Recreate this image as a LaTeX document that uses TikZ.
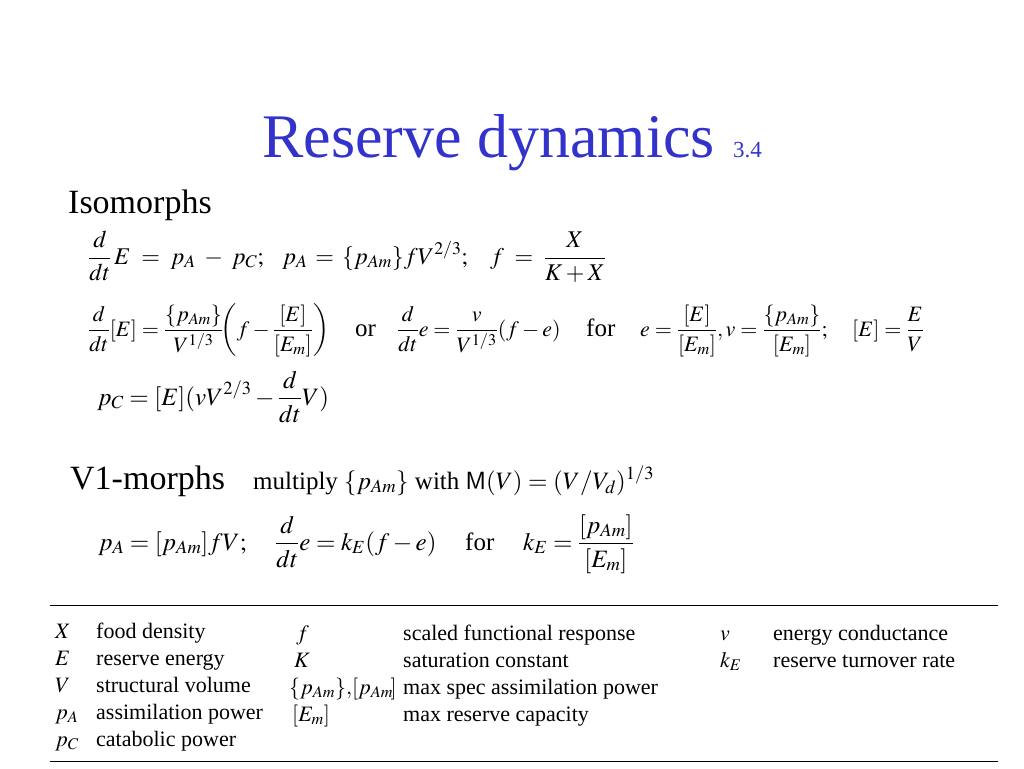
\documentclass[tikz,border=0pt]{standalone}
\usepackage{mathptmx}
\usepackage[no-math]{fontspec}
\setmainfont{Liberation Serif}
\usetikzlibrary{positioning}
\definecolor{slideblue}{RGB}{51,51,204}
\tikzset{
    slidetitle/.style={anchor=base west, inner sep=0pt, text=slideblue, font=\fontsize{62}{70}\selectfont},
    heading/.style={anchor=base west, inner sep=0pt, font=\fontsize{34}{40}\selectfont},
    eqn/.style={anchor=base west, inner sep=0pt, font=\fontsize{25}{29}\selectfont},
    eqnsmall/.style={eqn, font=\fontsize{22}{26}\selectfont},
    legend/.style={anchor=base west, inner sep=0pt, font=\fontsize{22}{26}\selectfont},
}

\begin{document}
\begin{tikzpicture}[x=1pt, y=-1pt]
    \useasboundingbox (0, 0) rectangle (1024, 768);
    % title
    \node [slidetitle] (title) at (262, 157) {Reserve dynamics};
    \node [slidetitle, font=\fontsize{23}{26}\selectfont] (sec) at (733, 157) {3.4};
    % isomorphs
    \node [heading] (iso) at (68, 213) {Isomorphs};
    \node [eqn, font=\fontsize{24}{28}\selectfont] (dE) at (88, 264) {$\displaystyle \frac{d}{dt}\,E \;=\; p_A \;-\; p_C;$};
    \node [eqn, font=\fontsize{24}{28}\selectfont] (pA) at (282, 264) {$\displaystyle p_A \,=\, \{p_{Am}\}fV^{2/3};$};
    \node [eqn, font=\fontsize{24}{28}\selectfont] (fX) at (490, 264) {$\displaystyle f \;=\; \frac{X}{K+X}$};
    \node [eqnsmall] (dEc) at (88, 336) {$\displaystyle \frac{d}{dt}[E] = \frac{\{p_{Am}\}}{V^{1/3}}\!\biggl(f - \frac{[E]}{[E_m]}\biggr)$};
    \node [eqn] (or) at (355, 336) {or};
    \node [eqnsmall] (de) at (397, 336) {$\displaystyle \frac{d}{dt}e = \frac{v}{V^{1/3}}(f - e)$};
    \node [eqn] (for1) at (586, 336) {for};
    \node [eqnsmall] (ev) at (640, 336) {$\displaystyle e = \frac{[E]}{[E_m]}, v = \frac{\{p_{Am}\}}{[E_m]};$};
    \node [eqnsmall] (Ec) at (852, 336) {$\displaystyle [E] = \frac{E}{V}$};
    \node [eqn] (pC) at (97, 405) {$\displaystyle p_C = [E](vV^{2/3} - \frac{d}{dt}V)$};
    % V1-morphs
    \node [heading] (vone) at (70, 489) {V1-morphs};
    \node [eqn] (mult) at (253, 489) {multiply $\{p_{Am}\}$ with $\mathsf{M}(V) = (V/V_d)^{1/3}$};
    \node [eqn] (pAv) at (98, 550) {$p_A = [p_{Am}]fV;$};
    \node [eqn] (dev) at (275, 550) {$\displaystyle \frac{d}{dt}e = k_E(f - e)$};
    \node [eqn] (for2) at (465, 550) {for};
    \node [eqn] (kE) at (523, 550) {$\displaystyle k_E = \frac{[p_{Am}]}{[E_m]}$};
    % legend
    \draw [line width=1pt] (50, 605) -- (998, 605);
    \draw [line width=1pt] (50, 761) -- (998, 761);
    \foreach \s/\t [count=\i] in {X/food density, E/reserve energy, V/structural volume, p_A/assimilation power, p_C/catabolic power}{
        \node [legend] (sym\i) at (55, 611 + 27*\i) {$\s$};
        \node [legend] (txt\i) at (96, 611 + 27*\i) {\t};
    }
    \node [legend] (symf) at (296, 640) {$f$};
    \node [legend] (txtf) at (403, 640) {scaled functional response};
    \node [legend] (symK) at (294, 667) {$K$};
    \node [legend] (txtK) at (403, 667) {saturation constant};
    \node [legend] (symp) at (289, 694) {$\{p_{Am}\}{,}[p_{Am}\!]$};
    \node [legend] (txtp) at (403, 694) {max spec assimilation power};
    \node [legend] (symEm) at (292, 721) {$[E_m]$};
    \node [legend] (txtEm) at (403, 721) {max reserve capacity};
    \node [legend] (symv) at (720, 640) {$v$};
    \node [legend] (txtv) at (773, 640) {energy conductance};
    \node [legend] (symk) at (720, 667) {$k_E$};
    \node [legend] (txtk) at (773, 667) {reserve turnover rate};
\end{tikzpicture}
\end{document}
